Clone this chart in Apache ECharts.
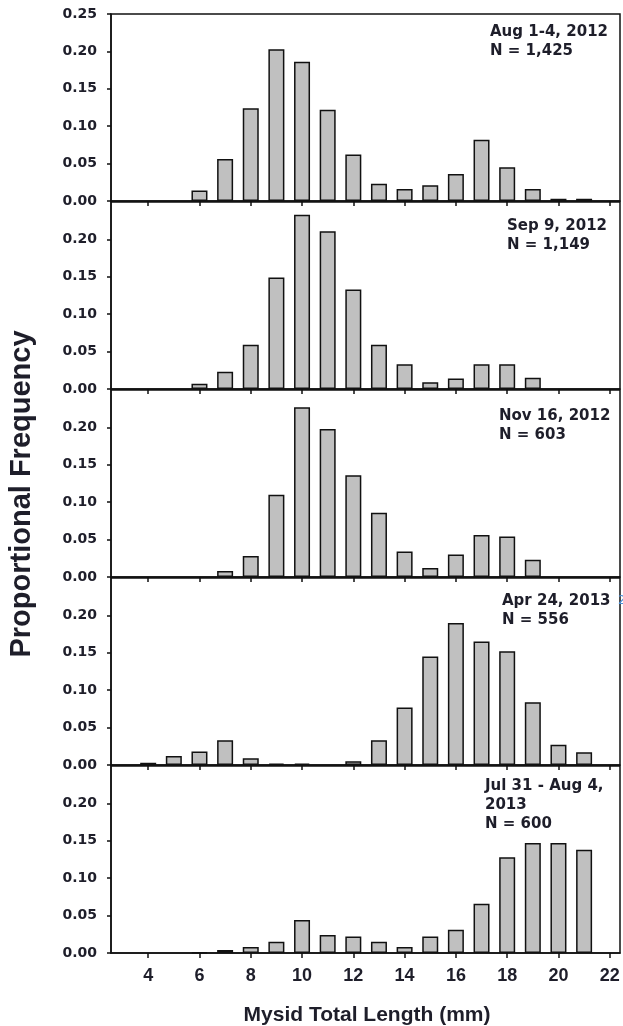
<!DOCTYPE html>
<html>
<head>
<meta charset="utf-8">
<script src="https://cdn.jsdelivr.net/npm/echarts@6/dist/echarts.min.js"></script>
<style>
  html, body { margin: 0; padding: 0; background: #fff; }
  #chart { width: 623px; height: 1026px; }
</style>
</head>
<body>
<div id="chart"></div>
<script>
  // mysid total length classes (mm)
  const lengths = [4, 5, 6, 7, 8, 9, 10, 11, 12, 13, 14, 15, 16, 17, 18, 19, 20, 21];
  const xTicks = [4, 6, 8, 10, 12, 14, 16, 18, 20, 22];

  // proportional frequency per sample, null = no bar
  const aug2012 = [null, null, 0.014, 0.056, 0.124, 0.203, 0.186, 0.122, 0.062, 0.023, 0.016, 0.021, 0.036, 0.082, 0.045, 0.016, 0.003, 0.003];
  const sep2012 = [null, null, 0.007, 0.023, 0.059, 0.149, 0.233, 0.211, 0.133, 0.059, 0.033, 0.009, 0.014, 0.033, 0.033, 0.015, null, null];
  const nov2012 = [null, null, null, 0.008, 0.028, 0.110, 0.227, 0.198, 0.136, 0.086, 0.034, 0.012, 0.030, 0.056, 0.054, 0.023, null, null];
  const apr2013 = [0.003, 0.012, 0.018, 0.033, 0.009, 0.002, 0.002, null, 0.005, 0.033, 0.077, 0.145, 0.190, 0.165, 0.152, 0.084, 0.027, 0.017];
  const jul2013 = [null, null, 0.001, 0.004, 0.008, 0.015, 0.044, 0.024, 0.022, 0.015, 0.008, 0.022, 0.031, 0.066, 0.128, 0.147, 0.147, 0.138];

  const panels = [
    { values: aug2012, label: 'Aug 1-4, 2012\nN = 1,425', lx: 490, ly: 23 },
    { values: sep2012, label: 'Sep 9, 2012\nN = 1,149', lx: 507, ly: 217 },
    { values: nov2012, label: 'Nov 16, 2012\nN = 603', lx: 499, ly: 407 },
    { values: apr2013, label: 'Apr 24, 2013\nN = 556', lx: 502, ly: 592 },
    { values: jul2013, label: 'Jul 31 - Aug 4,\n2013\nN = 600', lx: 485, ly: 777 }
  ];

  const ink = '#1e1e2a';
  const chart = echarts.init(document.getElementById('chart'));

  let grids = [], xAxes = [], yAxes = [], series = [], graphics = [];
  panels.forEach((p, i) => {
    let last = i === panels.length - 1;
    grids.push({
      left: 111, top: 14 + i * 188, width: 509, height: 187,
      show: true, borderColor: '#111', borderWidth: 1.5, backgroundColor: 'transparent'
    });
    xAxes.push({
      type: 'value', gridIndex: i, min: 2.55, max: 22.4,
      axisLine: { show: true, onZero: false, lineStyle: { color: '#111', width: 1.5 } },
      axisTick: { show: true, customValues: xTicks, length: 5, lineStyle: { color: '#111', width: 1.5 } },
      axisLabel: {
        show: last, customValues: xTicks, margin: 14,
        fontFamily: 'Liberation Sans', fontWeight: 'bold', fontSize: 18, color: ink
      },
      splitLine: { show: false }
    });
    let yTicks = i === 0 ? [0, 0.05, 0.10, 0.15, 0.20, 0.25] : [0, 0.05, 0.10, 0.15, 0.20];
    yAxes.push({
      type: 'value', gridIndex: i, min: 0, max: 0.25,
      axisLine: { show: true, lineStyle: { color: '#111', width: 1.5 } },
      axisTick: { show: true, customValues: yTicks, length: 4, lineStyle: { color: '#111', width: 1.5 } },
      axisLabel: {
        customValues: yTicks, margin: 14,
        formatter: v => v.toFixed(2),
        fontFamily: 'DejaVu Sans', fontWeight: 'bold', fontSize: 14, color: ink
      },
      splitLine: { show: false }
    });
    series.push({
      type: 'bar', xAxisIndex: i, yAxisIndex: i,
      barWidth: 16,
      data: lengths.map((l, k) => [l, p.values[k]]),
      itemStyle: { color: '#c0c0c0', borderColor: '#111', borderWidth: 1.5 },
      silent: true
    });
    graphics.push({
      type: 'text', left: p.lx, top: p.ly,
      style: {
        text: p.label, fontFamily: 'DejaVu Sans', fontWeight: 'bold',
        fontSize: 15, lineHeight: 19, fill: ink
      }
    });
  });

  // axis titles
  graphics.push({
    type: 'text', x: 22, y: 494, rotation: Math.PI / 2,
    style: {
      text: 'Proportional Frequency', fontFamily: 'Liberation Sans', fontWeight: 'bold',
      fontSize: 29, fill: ink, align: 'center', verticalAlign: 'middle'
    }
  });
  graphics.push({
    type: 'text', x: 367, y: 1015,
    style: {
      text: 'Mysid Total Length (mm)', fontFamily: 'Liberation Sans', fontWeight: 'bold',
      fontSize: 21, fill: ink, align: 'center', verticalAlign: 'middle'
    }
  });
  // stray mark at right edge of the Apr panel
  graphics.push({
    type: 'text', x: 618, y: 601,
    style: { text: '2', fontFamily: 'DejaVu Sans', fontSize: 12, fill: '#4a8fd8', verticalAlign: 'middle' }
  });

  chart.setOption({
    animation: false,
    grid: grids,
    xAxis: xAxes,
    yAxis: yAxes,
    series: series,
    graphic: graphics
  });
</script>
</body>
</html>
